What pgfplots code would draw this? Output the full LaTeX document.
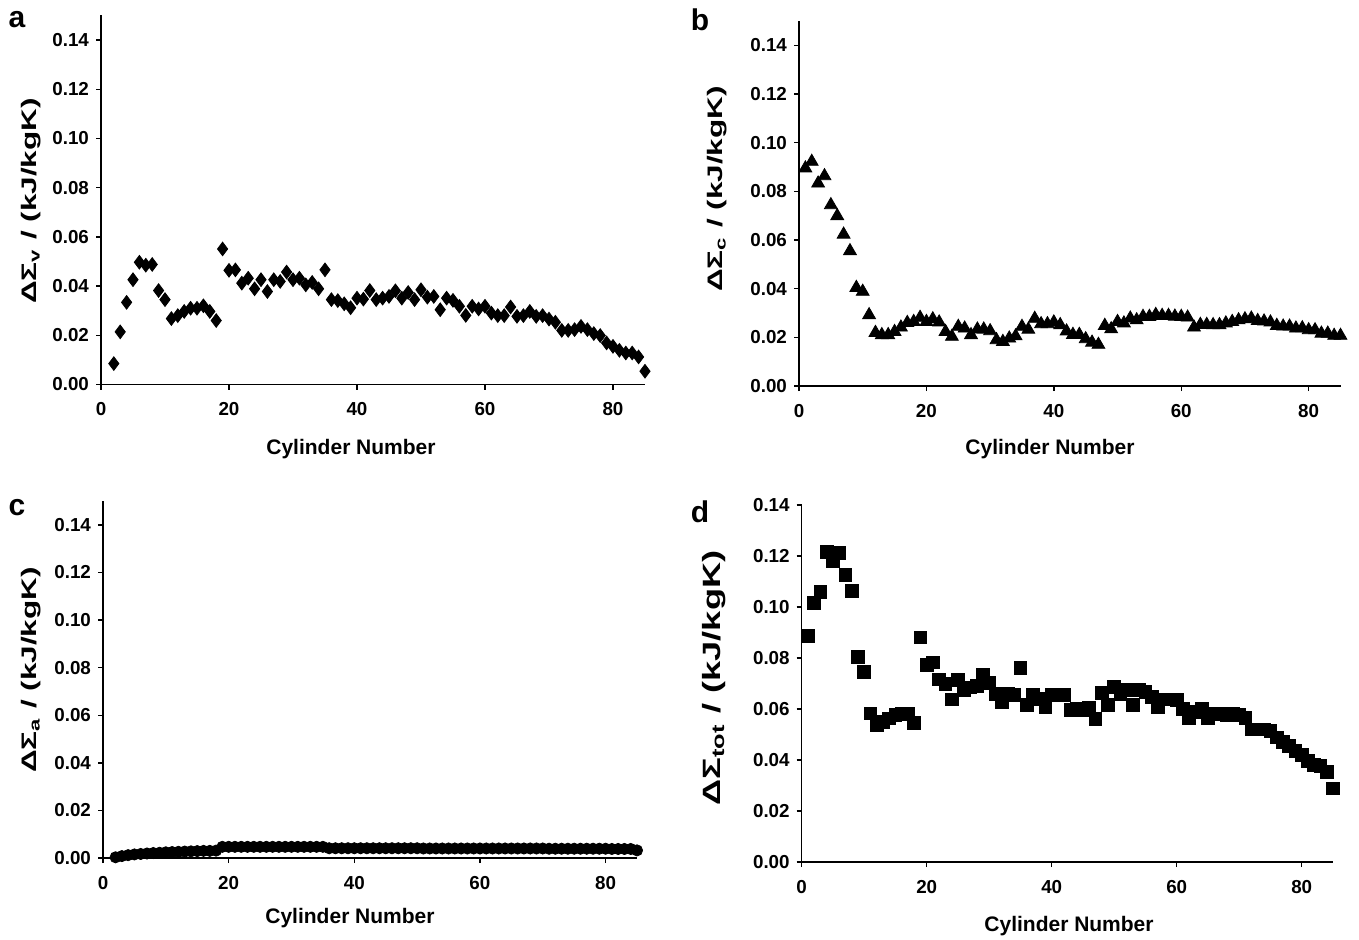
\documentclass[border=0pt]{standalone}
\usepackage{fontspec}
\setmainfont{Liberation Sans}
\usepackage{pgfplots}
\pgfplotsset{compat=1.18}

\pgfplotsset{
  panel/.style={
    scale only axis, anchor=south west, clip=false,
    axis lines*=left, axis line style={-, line width=0.7pt},
    xmin=0, xmax=85, ymin=0,
    xtick={0,20,40,60,80},
    ytick={0,0.02,0.04,0.06,0.08,0.10,0.12,0.14},
    tick align=outside, major tick length=2.5pt,
    tick style={black, line width=0.7pt},
    tick label style={font=\bfseries\fontsize{9.4}{11}\selectfont},
    xticklabel style={yshift=-3pt},
    /pgf/number format/assume math mode=true,
    yticklabel style={/pgf/number format/fixed, /pgf/number format/fixed zerofill,
                      /pgf/number format/precision=2},
  },
}
\newcommand{\lbl}{\bfseries\fontsize{10.5}{12}\selectfont}
% y titles are stretched along their length in the original
\newcommand{\ytitle}[2][1.5]{\scalebox{#1}[1]{#2}}

\begin{document}
\begin{tikzpicture}
\useasboundingbox (0,0) rectangle (679.5pt,469.5pt);

% (a) viscous
\begin{axis}[panel, at={(50.5pt,277.25pt)}, width=272pt, height=184.5pt, ymax=0.15]
\addplot[only marks, mark=diamond*, mark size=3.4pt, black] coordinates {
(2,0.0085) (3,0.0214) (4,0.0334) (5,0.0426) (6,0.0497) (7,0.0485) (8,0.0488) (9,0.0382)
(10,0.0345) (11,0.0268) (12,0.028) (13,0.0297) (14,0.031) (15,0.031) (16,0.032) (17,0.0297)
(18,0.026) (19,0.0551) (20,0.0464) (21,0.0466) (22,0.0412) (23,0.0432) (24,0.0389) (25,0.0426)
(26,0.0378) (27,0.0426) (28,0.0419) (29,0.0457) (30,0.0426) (31,0.0432) (32,0.0405) (33,0.0415)
(34,0.0389) (35,0.0466) (36,0.0345) (37,0.0341) (38,0.0328) (39,0.0312) (40,0.0351) (41,0.0347)
(42,0.0382) (43,0.0345) (44,0.0351) (45,0.0358) (46,0.0381) (47,0.0351) (48,0.0374) (49,0.0345)
(50,0.0385) (51,0.0355) (52,0.0358) (53,0.0304) (54,0.0351) (55,0.0342) (56,0.0318) (57,0.0281)
(58,0.0318) (59,0.0307) (60,0.0318) (61,0.029) (62,0.028) (63,0.028) (64,0.0315) (65,0.0277)
(66,0.028) (67,0.0297) (68,0.0277) (69,0.028) (70,0.0266) (71,0.0253) (72,0.022) (73,0.022)
(74,0.0223) (75,0.0236) (76,0.0223) (77,0.0207) (78,0.0199) (79,0.0169) (80,0.0155) (81,0.0139)
(82,0.0128) (83,0.0128) (84,0.0112) (85,0.0054)
};
\end{axis}

% (b) conductive
\begin{axis}[panel, at={(399.5pt,276.5pt)}, width=270.75pt, height=182.5pt, ymax=0.15]
\addplot[only marks, mark=triangle*, mark size=3.7pt, black] coordinates {
(1,0.0895) (2,0.0922) (3,0.0833) (4,0.0863) (5,0.0744) (6,0.0699) (7,0.0623) (8,0.0555)
(9,0.0404) (10,0.0388) (11,0.0292) (12,0.0219) (13,0.021) (14,0.021) (15,0.0223) (16,0.0241)
(17,0.026) (18,0.0264) (19,0.0281) (20,0.0264) (21,0.0275) (22,0.0262) (23,0.0223) (24,0.0203)
(25,0.0244) (26,0.0237) (27,0.021) (28,0.0233) (29,0.0233) (30,0.0226) (31,0.0189) (32,0.0182)
(33,0.0196) (34,0.0205) (35,0.0244) (36,0.0232) (37,0.0277) (38,0.0255) (39,0.0255) (40,0.0262)
(41,0.0251) (42,0.0225) (43,0.0211) (44,0.0211) (45,0.0193) (46,0.0179) (47,0.017) (48,0.0248)
(49,0.0234) (50,0.0264) (51,0.0258) (52,0.0278) (53,0.0271) (54,0.0285) (55,0.0285) (56,0.0293)
(57,0.0289) (58,0.0289) (59,0.0286) (60,0.0285) (61,0.0282) (62,0.0241) (63,0.0252) (64,0.0252)
(65,0.0251) (66,0.0251) (67,0.0258) (68,0.0264) (69,0.0271) (70,0.0275) (71,0.0278) (72,0.0268)
(73,0.0266) (74,0.0262) (75,0.0248) (76,0.0245) (77,0.0245) (78,0.0237) (79,0.0238) (80,0.023)
(81,0.023) (82,0.0216) (83,0.0216) (84,0.0207) (85,0.0207)
};
\end{axis}

% (c) advective
\begin{axis}[panel, at={(51.5pt,40.5pt)}, width=267pt, height=178.5pt, ymax=0.15]
\addplot[only marks, mark=*, mark size=2.8pt, black] coordinates {
(2,0.0003) (3,0.0008) (4,0.0012) (5,0.0015) (6,0.0017) (7,0.0019) (8,0.0021) (9,0.0022)
(10,0.0024) (11,0.0025) (12,0.0026) (13,0.0027) (14,0.0028) (15,0.0029) (16,0.0030) (17,0.0030)
(18,0.0031) (19,0.0047) (20,0.0047) (21,0.0047) (22,0.0047) (23,0.0047) (24,0.0047) (25,0.0047)
(26,0.0047) (27,0.0047) (28,0.0047) (29,0.0047) (30,0.0047) (31,0.0047) (32,0.0047) (33,0.0047)
(34,0.0047) (35,0.0047) (36,0.0041) (37,0.0041) (38,0.0041) (39,0.0041) (40,0.0041) (41,0.0041)
(42,0.0041) (43,0.0041) (44,0.0041) (45,0.0041) (46,0.0041) (47,0.0041) (48,0.0041) (49,0.0041)
(50,0.0041) (51,0.0040) (52,0.0040) (53,0.0040) (54,0.0040) (55,0.0040) (56,0.0040) (57,0.0040)
(58,0.0040) (59,0.0040) (60,0.0040) (61,0.0040) (62,0.0040) (63,0.0040) (64,0.0040) (65,0.0040)
(66,0.0040) (67,0.0040) (68,0.0040) (69,0.0040) (70,0.0040) (71,0.0039) (72,0.0039) (73,0.0039)
(74,0.0039) (75,0.0039) (76,0.0039) (77,0.0039) (78,0.0039) (79,0.0039) (80,0.0039) (81,0.0038)
(82,0.0038) (83,0.0038) (84,0.0038) (85,0.0032)
};
\end{axis}

% (d) total
\begin{axis}[panel, at={(400.85pt,38.5pt)}, width=265.65pt, height=178.5pt, ymax=0.14]
\addplot[only marks, mark=square*, mark size=3.2pt, black] coordinates {
(1,0.0886) (2,0.1015) (3,0.1058) (4,0.1215) (5,0.118) (6,0.1211) (7,0.1125) (8,0.1063)
(9,0.0803) (10,0.0744) (11,0.0583) (12,0.0537) (13,0.055) (14,0.0563) (15,0.0576) (16,0.058)
(17,0.058) (18,0.0544) (19,0.0881) (20,0.0773) (21,0.0783) (22,0.0716) (23,0.0698) (24,0.0638)
(25,0.0714) (26,0.0675) (27,0.0685) (28,0.0691) (29,0.0733) (30,0.0701) (31,0.066) (32,0.0629)
(33,0.066) (34,0.0655) (35,0.076) (36,0.0616) (37,0.0655) (38,0.064) (39,0.0609) (40,0.0655)
(41,0.0655) (42,0.0655) (43,0.0596) (44,0.06) (45,0.0596) (46,0.0605) (47,0.056) (48,0.0664)
(49,0.0616) (50,0.0688) (51,0.066) (52,0.0675) (53,0.0616) (54,0.0675) (55,0.0668) (56,0.0648)
(57,0.0609) (58,0.0638) (59,0.0638) (60,0.0635) (61,0.0599) (62,0.0564) (63,0.059) (64,0.0602)
(65,0.0564) (66,0.058) (67,0.0583) (68,0.0576) (69,0.0583) (70,0.0576) (71,0.0564) (72,0.052)
(73,0.052) (74,0.052) (75,0.0515) (76,0.0489) (77,0.0472) (78,0.0455) (79,0.0437) (80,0.042)
(81,0.0397) (82,0.038) (83,0.0377) (84,0.0354) (85,0.0289)
};
\end{axis}

% axis titles and panel letters
\node[font=\lbl] at (175.5pt,245pt) {Cylinder Number};
\node[font=\lbl] at (525pt,245pt) {Cylinder Number};
\node[font=\lbl] at (175pt,10.5pt) {Cylinder Number};
\node[font=\lbl] at (534.5pt,6.5pt) {Cylinder Number};
\node[font=\lbl, rotate=90] at (15.5pt,369pt) {\ytitle{ΔΣ\textsubscript{v} / (kJ/kgK)}};
\node[font=\lbl, rotate=90] at (358.5pt,375pt) {\ytitle{ΔΣ\textsubscript{c} / (kJ/kgK)}};
\node[font=\lbl, rotate=90] at (15.5pt,134.5pt) {\ytitle{ΔΣ\textsubscript{a} / (kJ/kgK)}};
\node[font=\bfseries\fontsize{12.5}{14}\selectfont, rotate=90] at (357pt,130.5pt) {\ytitle[1.45]{ΔΣ\textsubscript{tot} / (kJ/kgK)}};
\node[font=\bfseries\fontsize{15}{17}\selectfont] at (8.5pt,459.5pt) {a};
\node[font=\bfseries\fontsize{15}{17}\selectfont] at (350pt,459.5pt) {b};
\node[font=\bfseries\fontsize{15}{17}\selectfont] at (8.5pt,215.5pt) {c};
\node[font=\bfseries\fontsize{15}{17}\selectfont] at (350pt,213.5pt) {d};
\end{tikzpicture}
\end{document}
